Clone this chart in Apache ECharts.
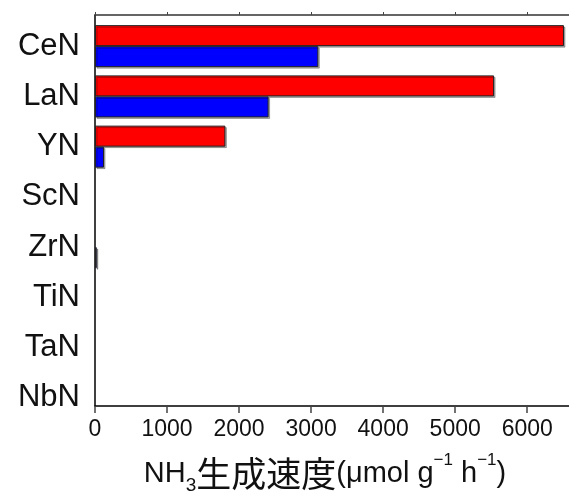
<!DOCTYPE html>
<html>
<head>
<meta charset="utf-8">
<script src="https://cdn.jsdelivr.net/npm/echarts@6/dist/echarts.min.js"></script>
<style>
  html, body { margin: 0; padding: 0; background: #fff; }
  #chart { width: 569px; height: 500px; }
</style>
</head>
<body>
<div id="chart"></div>
<script>
const categories = ['CeN', 'LaN', 'YN', 'ScN', 'ZrN', 'TiN', 'TaN', 'NbN'];
const redValues = [6510, 5540, 1810, 0, 0, 0, 0, 0];
const blueValues = [3100, 2410, 125, 0, 25, 0, 0, 0];
const tickValues = [0, 1000, 2000, 3000, 4000, 5000, 6000];
const xMax = 6580;

const chart = echarts.init(document.getElementById('chart'));

// zero-height bars get no outline so they don't thicken the axis line
function barData(values) {
  return values.map(function (v) {
    if (v === 0) {
      return { value: v, itemStyle: { borderWidth: 0, shadowColor: 'transparent' } };
    }
    return v;
  });
}

const barStyle = function (color) {
  return {
    color: color,
    borderColor: '#222',
    borderWidth: 1,
    shadowColor: 'rgba(0,0,0,0.3)',
    shadowOffsetX: 1.5,
    shadowOffsetY: 1.5,
    shadowBlur: 0
  };
};

const option = {
  animation: false,
  backgroundColor: '#fff',
  grid: [
    { left: 95, right: 0, top: 15, bottom: 84 },
    { left: 95, right: 0, top: 21, bottom: 77 }
  ],
  xAxis: [
    {
      gridIndex: 0,
      type: 'value',
      position: 'bottom',
      min: 0,
      max: xMax,
      splitLine: { show: false },
      axisLine: { show: true, lineStyle: { color: '#000', width: 1.5 } },
      axisTick: { show: true, length: 7, customValues: tickValues, lineStyle: { color: '#444', width: 1.5 } },
      axisLabel: {
        customValues: tickValues,
        formatter: function (v) { return String(v); },
        margin: 12,
        fontSize: 23,
        color: '#111',
        fontFamily: 'Liberation Sans'
      },
      name: '{n|NH}{s|3}{c|生成速度}{n|(μmol g}{p|−1}{n| h}{p|−1}{n|)}',
      nameLocation: 'middle',
      nameGap: 46,
      nameTextStyle: {
        padding: [0, 14, 0, 0],
        rich: {
          n: { fontSize: 29, lineHeight: 43, color: '#111', fontFamily: 'Liberation Sans' },
          c: { fontSize: 35, lineHeight: 43, color: '#111', fontFamily: 'Noto Sans CJK JP' },
          s: { fontSize: 19, lineHeight: 19, verticalAlign: 'bottom', color: '#111', fontFamily: 'Liberation Sans' },
          p: { fontSize: 17, lineHeight: 40, verticalAlign: 'top', color: '#111', fontFamily: 'Liberation Sans' }
        }
      }
    },
    {
      gridIndex: 0,
      type: 'value',
      position: 'top',
      min: 0,
      max: xMax,
      splitLine: { show: false },
      axisLine: { show: true, lineStyle: { color: '#333', width: 1.5 } },
      axisTick: { show: true, length: 3, customValues: tickValues, lineStyle: { color: '#444' } },
      axisLabel: { show: false }
    },
    {
      gridIndex: 1,
      type: 'value',
      min: 0,
      max: xMax,
      show: false
    }
  ],
  yAxis: [
    {
      gridIndex: 0,
      type: 'value',
      min: 0,
      max: 1,
      splitLine: { show: false },
      axisLine: { show: true, lineStyle: { color: '#000', width: 1.5 } },
      axisTick: { show: false },
      axisLabel: { show: false }
    },
    {
      gridIndex: 1,
      type: 'category',
      data: categories,
      inverse: true,
      axisLine: { show: false },
      axisTick: { show: false },
      axisLabel: {
        margin: 15,
        fontSize: 31,
        color: '#111',
        fontFamily: 'Liberation Sans'
      }
    }
  ],
  series: [
    {
      name: 'red',
      type: 'bar',
      xAxisIndex: 2,
      yAxisIndex: 1,
      barWidth: 21,
      barGap: '0%',
      data: barData(redValues),
      itemStyle: barStyle('#ff0000')
    },
    {
      name: 'blue',
      type: 'bar',
      xAxisIndex: 2,
      yAxisIndex: 1,
      barWidth: 21,
      barGap: '0%',
      data: barData(blueValues),
      itemStyle: barStyle('#0000ff')
    }
  ]
};

chart.setOption(option);
</script>
</body>
</html>
